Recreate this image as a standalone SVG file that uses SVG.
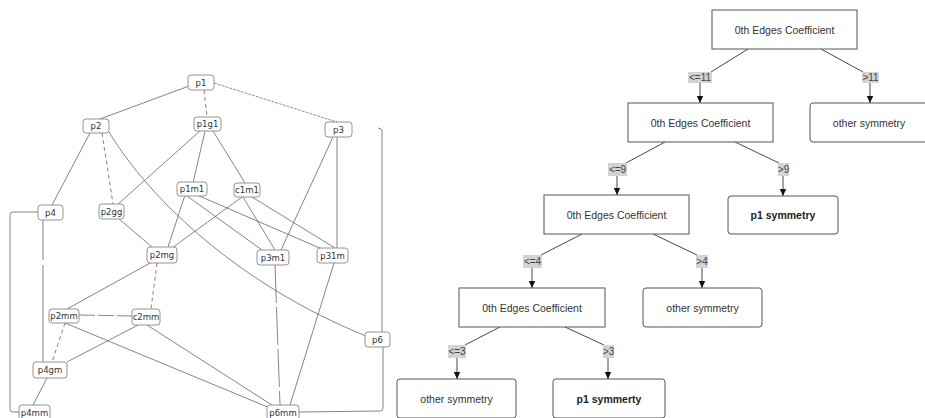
<svg xmlns="http://www.w3.org/2000/svg" width="925" height="418" viewBox="0 0 925 418">
<defs>
<style>
.n rect{fill:#fff;stroke:#888;stroke-width:0.9}
.n text{font-family:"DejaVu Sans",sans-serif;font-size:8.5px;fill:#333;text-anchor:middle;dominant-baseline:central}
.e{fill:none;stroke:#666;stroke-width:0.8}
.dash{stroke-dasharray:4,3}
.dot{stroke-dasharray:3,1;stroke:#777}
.long{stroke-dasharray:38,4}
.d rect{fill:#fff;stroke:#555;stroke-width:1}
.l rect{fill:#fff;stroke:#555;stroke-width:1}
.d text,.l text{font-family:"Liberation Sans",Arial,sans-serif;font-size:10.5px;fill:#333;text-anchor:middle;dominant-baseline:central}
.l text.b{font-weight:bold;fill:#222}
.t{fill:none;stroke:#333;stroke-width:0.9}
.lb rect{fill:#d3d3d3;stroke:none}
.lb text{font-family:"Liberation Sans",Arial,sans-serif;font-size:10px;fill:#444;text-anchor:middle;dominant-baseline:central}
</style>
<marker id="ah" markerWidth="8" markerHeight="8" refX="7" refY="4" orient="auto" markerUnits="userSpaceOnUse">
<path d="M0,0.8 L7,4 L0,7.2 Z" fill="#111"/>
</marker>
</defs>
<rect width="925" height="418" fill="#fff"/>

<g id="lattice-edges">
<path class="e" d="M189,86 L100,119"/>
<path class="e dash" d="M204,90 L207,117"/>
<path class="e dot" d="M214,83 L337,122"/>
<path class="e" d="M90,133 L52,205"/>
<path class="e dash" d="M102,133 L113,204"/>
<path class="e" d="M109,132 C150,200 240,285 366,336"/>
<path class="e" d="M200,131 L117,205"/>
<path class="e" d="M205,131 L193,183"/>
<path class="e" d="M213,131 L245,183"/>
<path class="e" d="M333,137 L281,250"/>
<path class="e" d="M337,137 L337,248"/>
<path class="e" d="M378,128 Q382,128 382,131 L382,332"/>
<path class="e" d="M185,195 L168,247"/>
<path class="e" d="M187,196 L262,250"/>
<path class="e" d="M197,195 L322,249"/>
<path class="e" d="M242,197 L172,248"/>
<path class="e" d="M243,197 L275,250"/>
<path class="e" d="M252,197 L335,248"/>
<path class="e" d="M118,218 L152,247"/>
<path class="e dash" d="M157,263 L151,309"/>
<path class="e" d="M152,262 L67,309"/>
<path class="e" d="M79,315 L132,316" style="stroke-dasharray:16,3"/>
<path class="e" d="M43,220 L43,362" style="stroke-dasharray:40,5,200,0"/>
<path class="e" d="M38,212 L13,212 Q10,212 10,215 L10,409 Q10,412 13,412 L19,412"/>
<path class="e dash" d="M65,323 L52,362"/>
<path class="e" d="M138,325 L67,362"/>
<path class="e" d="M65,323 L270,408"/>
<path class="e" d="M147,325 L275,407"/>
<path class="e" d="M47,378 L33,405"/>
<path class="e long" d="M275,265 L280,405"/>
<path class="e" d="M334,263 L290,405"/>
<path class="e" d="M383,347 L383,408 Q383,411 380,411 L299,412"/>
</g>

<g id="p1" class="n"><rect x="188" y="75" width="26" height="15" rx="3"/><text x="201" y="82.5">p1</text></g>
<g id="p2" class="n"><rect x="83" y="119" width="26" height="14" rx="3"/><text x="96" y="126">p2</text></g>
<g id="p1g1" class="n"><rect x="194" y="117" width="27" height="14" rx="3"/><text x="207.5" y="124">p1g1</text></g>
<g id="p3" class="n"><rect x="325" y="122" width="27" height="15" rx="3"/><text x="338.5" y="129.5">p3</text></g>
<g id="p1m1" class="n"><rect x="177" y="182" width="30" height="14" rx="3"/><text x="192" y="189">p1m1</text></g>
<g id="c1m1" class="n"><rect x="234" y="183" width="26" height="14" rx="3"/><text x="247" y="190">c1m1</text></g>
<g id="p4" class="n"><rect x="38" y="205" width="25" height="15" rx="3"/><text x="50.5" y="212.5">p4</text></g>
<g id="p2gg" class="n"><rect x="99" y="204" width="25" height="15" rx="3"/><text x="111.5" y="211.5">p2gg</text></g>
<g id="p2mg" class="n"><rect x="147" y="247" width="30" height="16" rx="3"/><text x="162" y="255">p2mg</text></g>
<g id="p3m1" class="n"><rect x="257" y="250" width="32" height="15" rx="3"/><text x="273" y="257.5">p3m1</text></g>
<g id="p31m" class="n"><rect x="317" y="248" width="31" height="15" rx="3"/><text x="332.5" y="255.5">p31m</text></g>
<g id="p2mm" class="n"><rect x="49" y="309" width="30" height="14" rx="3"/><text x="64" y="316">p2mm</text></g>
<g id="c2mm" class="n"><rect x="132" y="309" width="28" height="16" rx="3"/><text x="146" y="317">c2mm</text></g>
<g id="p6" class="n"><rect x="365" y="332" width="25" height="15" rx="3"/><text x="377.5" y="339.5">p6</text></g>
<g id="p4gm" class="n"><rect x="33" y="362" width="34" height="16" rx="3"/><text x="50" y="370">p4gm</text></g>
<g id="p4mm" class="n"><rect x="19" y="405" width="31" height="16" rx="3"/><text x="34.5" y="413">p4mm</text></g>
<g id="p6mm" class="n"><rect x="267" y="405" width="32" height="16" rx="3"/><text x="283" y="413">p6mm</text></g>

<g id="tree-edges">
<path class="t" d="M748,49 L711,72"/>
<path class="t" d="M700,83 L700,103" marker-end="url(#ah)"/>
<path class="t" d="M821,49 L863,72"/>
<path class="t" d="M870,83 L870,103" marker-end="url(#ah)"/>
<path class="t" d="M665,142 L626,163"/>
<path class="t" d="M617,176 L617,195" marker-end="url(#ah)"/>
<path class="t" d="M735,142 L779,163"/>
<path class="t" d="M783,176 L783,196" marker-end="url(#ah)"/>
<path class="t" d="M582,234 L541,255"/>
<path class="t" d="M532,268 L532,288" marker-end="url(#ah)"/>
<path class="t" d="M653,234 L697,255"/>
<path class="t" d="M702,268 L702,288" marker-end="url(#ah)"/>
<path class="t" d="M500,327 L465,345"/>
<path class="t" d="M457,358 L457,379" marker-end="url(#ah)"/>
<path class="t" d="M565,327 L604,345"/>
<path class="t" d="M608,358 L608,379" marker-end="url(#ah)"/>
</g>

<g id="label-le11" class="lb"><rect x="688" y="72" width="24" height="11"/><text x="700" y="77.5">&lt;=11</text></g>
<g id="label-gt11" class="lb"><rect x="862" y="72" width="17" height="11"/><text x="870.5" y="77.5">&gt;11</text></g>
<g id="label-le9" class="lb"><rect x="608" y="163" width="19" height="13"/><text x="617.5" y="169.5">&lt;=9</text></g>
<g id="label-gt9" class="lb"><rect x="778" y="163" width="11" height="13"/><text x="783.5" y="169.5">&gt;9</text></g>
<g id="label-le4" class="lb"><rect x="523" y="255" width="19" height="13"/><text x="532.5" y="261.5">&lt;=4</text></g>
<g id="label-gt4" class="lb"><rect x="696" y="255" width="12" height="13"/><text x="702" y="261.5">&gt;4</text></g>
<g id="label-le3" class="lb"><rect x="448" y="345" width="18" height="13"/><text x="457" y="351.5">&lt;=3</text></g>
<g id="label-gt3" class="lb"><rect x="603" y="345" width="11" height="13"/><text x="608.5" y="351.5">&gt;3</text></g>

<g id="root" class="d"><rect x="712" y="10" width="145" height="39"/><text x="784.5" y="29.5">0th Edges Coefficient</text></g>
<g id="dec2" class="d"><rect x="628" y="103" width="145" height="39"/><text x="700.5" y="122.5">0th Edges Coefficient</text></g>
<g id="leaf-other1" class="l"><rect x="810" y="103" width="118" height="39" rx="3"/><text x="869" y="122.5">other symmetry</text></g>
<g id="dec3" class="d"><rect x="544" y="195" width="145" height="39"/><text x="616.5" y="214.5">0th Edges Coefficient</text></g>
<g id="leaf-p1a" class="l"><rect x="728" y="196" width="110" height="38" rx="3"/><text class="b" x="783" y="215">p1 symmetry</text></g>
<g id="dec4" class="d"><rect x="459" y="288" width="146" height="39"/><text x="532" y="307.5">0th Edges Coefficient</text></g>
<g id="leaf-other2" class="l"><rect x="643" y="288" width="119" height="39" rx="3"/><text x="702.5" y="307.5">other symmetry</text></g>
<g id="leaf-other3" class="l"><rect x="397" y="379" width="119" height="39" rx="3"/><text x="456.5" y="398.5">other symmetry</text></g>
<g id="leaf-p1b" class="l"><rect x="553" y="379" width="112" height="39" rx="3"/><text class="b" x="609" y="398.5">p1 symmerty</text></g>
</svg>
